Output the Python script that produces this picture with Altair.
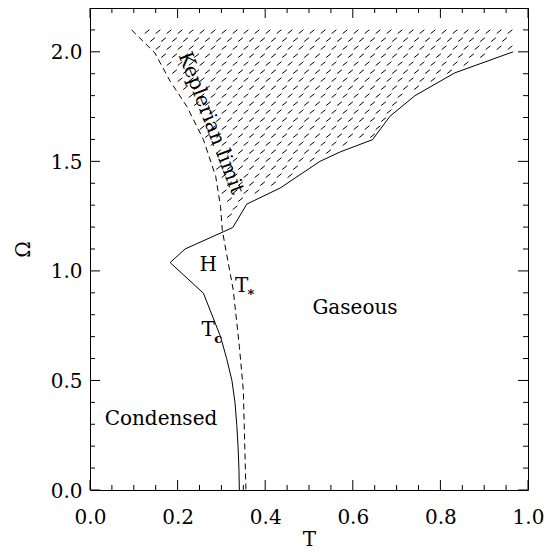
import altair as alt
import numpy as np
import pandas as pd

# ---------------- data ----------------
# Keplerian limit (dashed curve)
kep_T = [0.095, 0.148, 0.183, 0.221, 0.259, 0.287, 0.298, 0.302, 0.308, 0.327, 0.341, 0.350, 0.356]
kep_O = [2.100, 1.995, 1.866, 1.751, 1.599, 1.431, 1.294, 1.188, 1.119, 0.914, 0.655, 0.457, 0.000]

# Tc / phase boundary (solid curve), from bottom, through the kink, up to the right
tc_T = [0.341, 0.340, 0.338, 0.335, 0.331, 0.324, 0.312, 0.298, 0.259, 0.183,
        0.217, 0.326, 0.358, 0.434, 0.525, 0.571, 0.645, 0.685, 0.742, 0.833, 0.966]
tc_O = [0.000, 0.100, 0.200, 0.300, 0.400, 0.500, 0.600, 0.700, 0.898, 1.038,
        1.100, 1.198, 1.305, 1.378, 1.500, 1.543, 1.599, 1.706, 1.800, 1.904, 2.000]
KINK = 9  # index where the upper branch starts

# axis ticks
x_major = [0.0, 0.2, 0.4, 0.6, 0.8, 1.0]
x_minor = [0.05, 0.1, 0.15, 0.25, 0.3, 0.35, 0.45, 0.5, 0.55, 0.65, 0.7, 0.75, 0.85, 0.9, 0.95]
y_major = [0.0, 0.5, 1.0, 1.5, 2.0]
y_minor = [0.1, 0.2, 0.3, 0.4, 0.6, 0.7, 0.8, 0.9, 1.1, 1.2, 1.3, 1.4, 1.6, 1.7, 1.8, 1.9, 2.1]

# annotations
label_text = ["H", "T", "T", "Gaseous", "Condensed"]
label_T = [0.270, 0.346, 0.270, 0.605, 0.162]
label_O = [1.028, 0.929, 0.731, 0.831, 0.324]
sub_text = ["*", "c"]
sub_T = [0.3676, 0.2927]
sub_O = [0.890, 0.688]
kep_label = ["Keplerian limit"]
kep_label_T = [0.276]
kep_label_O = [1.675]
HATCH_TOP = 2.1

# ---------------- layout ----------------
W, H = 438, 482
FONT = "DejaVu Serif"
FS = 20

xs = alt.Scale(domain=[0, 1], nice=False, zero=False)
ys = alt.Scale(domain=[0, 2.2], nice=False, zero=False)

# ---------------- hatch texture for the shaded region ----------------
dT = 11.0 / W
dO = 8.0 / H * 2.2
kO_inc = np.array(kep_O[::-1])
kT_inc = np.array(kep_T[::-1])
upT = np.array(tc_T[KINK:])
upO = np.array(tc_O[KINK:])
hx, hy = [], []
o = HATCH_TOP - 0.008
k = 0
while o > 1.1:
    t = 0.08 + (k % 2) * dT / 2
    while t < 0.97:
        if (t >= np.interp(o, kO_inc, kT_inc) + 0.008
                and o >= np.interp(t, upT, upO) + 0.016
                and t <= tc_T[-1] - 0.002):
            hx.append(t)
            hy.append(o)
        t += dT
    o -= dO
    k += 1
hatch_df = pd.DataFrame({"T": hx, "O": hy})

kep_df = pd.DataFrame({"T": kep_T, "O": kep_O, "i": range(len(kep_T))})
tc_df = pd.DataFrame({"T": tc_T, "O": tc_O, "i": range(len(tc_T))})

xaxis = alt.Axis(values=x_major, format=".1f", ticks=False, tickSize=0, domain=False, grid=False,
                 labelFont=FONT, labelFontSize=FS, labelColor="black", labelPadding=17,
                 labelFlush=False, labelOverlap=False,
                 title="T", titleFont=FONT, titleFontSize=FS, titleFontWeight="normal",
                 titleColor="black", titleBaseline="alphabetic", titleY=55, titleX=W / 2)
yaxis = alt.Axis(values=y_major, format=".1f", ticks=False, tickSize=0, domain=False, grid=False,
                 labelFont=FONT, labelFontSize=FS, labelColor="black", labelPadding=8,
                 labelFlush=False, labelOverlap=False, labelOffset=1,
                 title="Ω", titleFont=FONT, titleFontSize=FS, titleFontWeight="normal",
                 titleColor="black", titleX=-67, titleY=H / 2, titleBaseline="middle", titleAngle=-90)


def X(field="T"):
    return alt.X(f"{field}:Q", scale=xs, axis=xaxis, title="T")


def Y(field="O"):
    return alt.Y(f"{field}:Q", scale=ys, axis=yaxis, title="Ω")


hatch = alt.Chart(hatch_df).mark_point(shape="M-1,0.8L1,-0.8", size=22, filled=False,
                                       stroke="black", strokeWidth=1, opacity=1).encode(x=X(), y=Y())

kep = alt.Chart(kep_df).mark_line(color="black", strokeWidth=1, strokeDash=[6, 4]).encode(
    x=X(), y=Y(), order="i:Q")

tc = alt.Chart(tc_df).mark_line(color="black", strokeWidth=1).encode(x=X(), y=Y(), order="i:Q")

ticks = []
for vals, length in ((x_major, 10), (x_minor, 5)):
    d = pd.DataFrame({"v": vals})
    ticks.append(alt.Chart(d).mark_rule(color="black", strokeWidth=1).encode(
        x=X("v"), y=alt.value(H), y2=alt.value(H - length)))
    ticks.append(alt.Chart(d).mark_rule(color="black", strokeWidth=1).encode(
        x=X("v"), y=alt.value(0), y2=alt.value(length)))
for vals, length in ((y_major, 10), (y_minor, 5)):
    d = pd.DataFrame({"v": vals})
    ticks.append(alt.Chart(d).mark_rule(color="black", strokeWidth=1).encode(
        y=Y("v"), x=alt.value(0), x2=alt.value(length)))
    ticks.append(alt.Chart(d).mark_rule(color="black", strokeWidth=1).encode(
        y=Y("v"), x=alt.value(W), x2=alt.value(W - length)))

labels = alt.Chart(pd.DataFrame({"T": label_T, "O": label_O, "txt": label_text})).mark_text(
    font=FONT, fontSize=FS, color="black", align="center", baseline="middle").encode(
    x=X(), y=Y(), text="txt:N")
subs = alt.Chart(pd.DataFrame({"T": sub_T, "O": sub_O, "txt": sub_text})).mark_text(
    font=FONT, fontSize=13, fontWeight="bold", color="black", align="center", baseline="middle").encode(
    x=X(), y=Y(), text="txt:N")
klab = alt.Chart(pd.DataFrame({"T": kep_label_T, "O": kep_label_O, "txt": kep_label})).mark_text(
    font=FONT, fontSize=FS, color="black", align="center", baseline="middle", angle=69).encode(
    x=X(), y=Y(), text="txt:N")

chart = alt.layer(hatch, kep, tc, *ticks, labels, subs, klab).properties(
    width=W, height=H,
    padding={"left": 82, "top": 0, "right": 19, "bottom": 61},
    autosize=alt.AutoSizeParams(type="none"),
    background="white",
).configure_view(stroke="black", strokeWidth=1)

chart.save("out.html", embed_options={"renderer": "svg", "actions": False})
